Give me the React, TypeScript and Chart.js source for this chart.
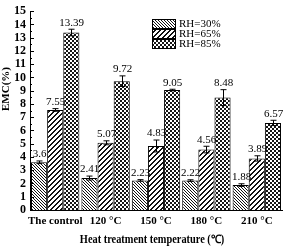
import React, { useEffect, useRef } from "react";
import { Chart, registerables } from "chart.js";

Chart.register(...registerables);

const categories = ["The control", "120 °C", "150 °C", "180 °C", "210 °C"];
const seriesNames = ["RH=30%", "RH=65%", "RH=85%"];
const rh30 = [3.6, 2.41, 2.23, 2.22, 1.88];
const rh65 = [7.55, 5.07, 4.83, 4.56, 3.89];
const rh85 = [13.39, 9.72, 9.05, 8.48, 6.57];
const err30 = [0.1, 0.15, 0.06, 0.06, 0.1];
const err65 = [0.1, 0.15, 0.45, 0.25, 0.2];
const err85 = [0.25, 0.4, 0.06, 0.6, 0.2];
const labels30 = ["3.6", "2.41", "2.23", "2.22", "1.88"];
const labels65 = ["7.55", "5.07", "4.83", "4.56", "3.89"];
const labels85 = ["13.39", "9.72", "9.05", "8.48", "6.57"];
const yTicks = [0, 1, 2, 3, 4, 5, 6, 7, 8, 9, 10, 11, 12, 13, 14, 15];
const xTitle = "Heat treatment temperature (℃)";
const yTitle = "EMC(%)";

const SERIF = "'Liberation Serif', 'Times New Roman', serif";

function makePattern(kind: string): CanvasPattern | string {
  const c = document.createElement("canvas");
  const ctx = c.getContext("2d")!;
  if (kind === "dense") {
    const s = 3;
    c.width = s; c.height = s;
    ctx.fillStyle = "#fff";
    ctx.fillRect(0, 0, s, s);
    ctx.fillStyle = "#111";
    for (let i = 0; i < s; i++) ctx.fillRect(i, i, 1, 1);
  } else if (kind === "sparse") {
    const s = 5;
    c.width = s; c.height = s;
    ctx.fillStyle = "#fff";
    ctx.fillRect(0, 0, s, s);
    ctx.fillStyle = "#111";
    for (let i = 0; i < s; i++) {
      ctx.fillRect(s - 1 - i, i, 1, 1);
      ctx.fillRect((s - i) % s, i, 1, 1);
    }
  } else {
    const s = 4;
    c.width = s; c.height = s;
    ctx.fillStyle = "#fff";
    ctx.fillRect(0, 0, s, s);
    ctx.fillStyle = "#151515";
    ctx.fillRect(0, 0, 2, 2);
    ctx.fillRect(2, 2, 2, 2);
  }
  const p = ctx.createPattern(c, "repeat");
  return p || "#888";
}

export default function App() {
  const ref = useRef<HTMLCanvasElement>(null);
  useEffect(() => {
    document.body.style.margin = "0";
    const canvas = ref.current!;
    const fills = [makePattern("dense"), makePattern("sparse"), makePattern("check")];
    const errs = [err30, err65, err85];
    const lbls = [labels30, labels65, labels85];

    const overlay = {
      id: "overlay",
      afterDatasetsDraw(chart: any) {
        const ctx = chart.ctx;
        const y = chart.scales.y;
        const area = chart.chartArea;
        ctx.save();
        // inward ticks on y axis (major + minor)
        ctx.strokeStyle = "#000";
        ctx.lineWidth = 1;
        yTicks.forEach((t, k) => {
          const py = Math.round(y.getPixelForValue(t)) + 0.5;
          ctx.beginPath();
          ctx.moveTo(area.left, py);
          ctx.lineTo(area.left + 4, py);
          ctx.stroke();
          if (k < yTicks.length - 1) {
            const pm = Math.round(y.getPixelForValue(t + 0.5)) + 0.5;
            ctx.beginPath();
            ctx.moveTo(area.left, pm);
            ctx.lineTo(area.left + 2, pm);
            ctx.stroke();
          }
        });
        // y title
        ctx.save();
        ctx.translate(6, 89);
        ctx.rotate(-Math.PI / 2);
        ctx.fillStyle = "#000";
        ctx.font = `bold 11px ${SERIF}`;
        ctx.textAlign = "center";
        ctx.textBaseline = "middle";
        ctx.fillText(yTitle, 0, 0);
        ctx.restore();
        // x title
        ctx.save();
        ctx.translate(152, 240);
        ctx.scale(0.9, 1);
        ctx.fillStyle = "#000";
        ctx.font = `bold 11.5px ${SERIF}`;
        ctx.textAlign = "center";
        ctx.textBaseline = "middle";
        ctx.fillText(xTitle, 0, 0);
        ctx.restore();
        // error bars and labels
        chart.data.datasets.forEach((ds: any, di: number) => {
          const meta = chart.getDatasetMeta(di);
          meta.data.forEach((bar: any, i: number) => {
            const v = ds.data[i];
            const e = errs[di][i];
            const x = Math.round(bar.x) + 0.5;
            const yt = y.getPixelForValue(v + e);
            const yb = y.getPixelForValue(v - e);
            ctx.strokeStyle = "#000";
            ctx.lineWidth = 1;
            ctx.beginPath();
            ctx.moveTo(x, yt);
            ctx.lineTo(x, yb);
            ctx.moveTo(x - 3, yt);
            ctx.lineTo(x + 3, yt);
            ctx.moveTo(x - 3, yb);
            ctx.lineTo(x + 3, yb);
            ctx.stroke();
            ctx.fillStyle = "#000";
            ctx.font = `11px ${SERIF}`;
            ctx.textAlign = "center";
            ctx.textBaseline = "bottom";
            ctx.fillText(lbls[di][i], x, yt - 1);
          });
        });
        // legend
        const lx = 152, ly = 19;
        seriesNames.forEach((n, i) => {
          const by = ly + i * 10;
          ctx.fillStyle = fills[i] as any;
          ctx.fillRect(lx, by, 23, 9);
          ctx.strokeStyle = "#000";
          ctx.lineWidth = 1;
          ctx.strokeRect(lx + 0.5, by + 0.5, 23, 9);
          ctx.fillStyle = "#000";
          ctx.font = `11px ${SERIF}`;
          ctx.textAlign = "left";
          ctx.textBaseline = "middle";
          ctx.fillText(n, lx + 27, by + 5);
        });
        ctx.restore();
      },
    };

    const chart = new Chart(canvas, {
      type: "bar",
      data: {
        labels: categories,
        datasets: [rh30, rh65, rh85].map((d, i) => ({
          label: seriesNames[i],
          data: d,
          backgroundColor: fills[i] as any,
          borderColor: "#000",
          borderWidth: 1,
          categoryPercentage: 0.96,
          barPercentage: 1,
        })),
      },
      options: {
        animation: false,
        responsive: false,
        devicePixelRatio: 1,
        layout: { padding: { top: 6, right: 5, left: 0, bottom: 0 } },
        plugins: { legend: { display: false }, tooltip: { enabled: false } },
        scales: {
          x: {
            grid: { display: false, drawTicks: false },
            border: { color: "#000", width: 1 },
            ticks: {
              color: "#000",
              padding: 5,
              font: { family: SERIF, size: 11, weight: "bold" },
              maxRotation: 0,
              autoSkip: false,
            },
            title: { display: false },
            afterFit: (s: any) => { s.height = 37; },
          },
          y: {
            min: 0,
            max: 15,
            grid: { display: false, drawTicks: false },
            border: { color: "#000", width: 1 },
            ticks: {
              stepSize: 1,
              autoSkip: false,
              color: "#000",
              padding: 4,
              font: { family: SERIF, size: 12, weight: "bold" },
            },
            title: { display: false },
            afterFit: (s: any) => { s.width = 30; },
          },
        },
      },
      plugins: [overlay],
    });
    return () => chart.destroy();
  }, []);
  return <canvas ref={ref} width={287} height={247} style={{ display: "block" }} />;
}
